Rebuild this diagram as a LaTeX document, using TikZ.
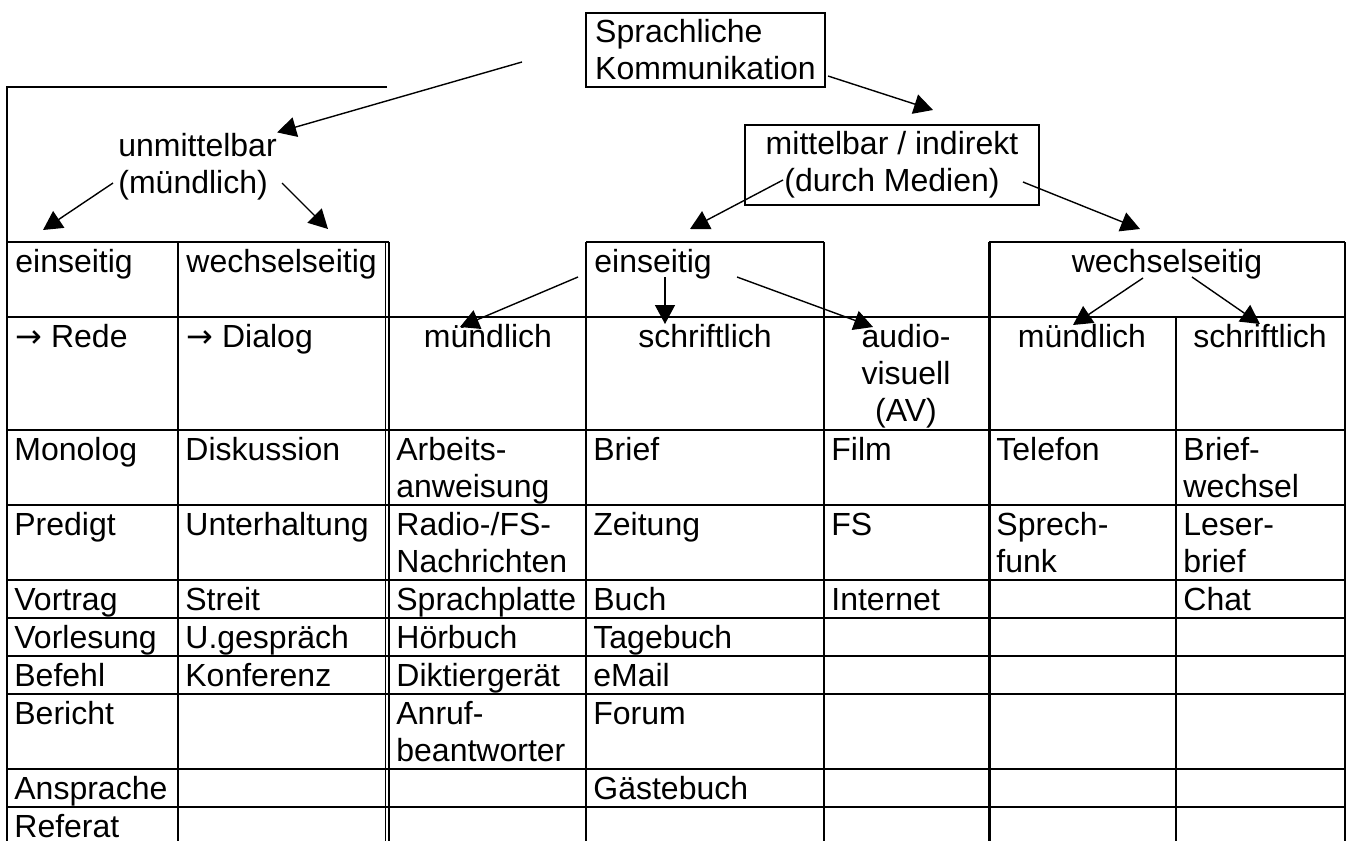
\documentclass[tikz,border=0pt]{standalone}
\usepackage{fontspec}
\setmainfont{Liberation Sans}
\newfontfamily\arrowfont{DejaVu Sans}
\usetikzlibrary{arrows.meta}

\tikzset{
  cell/.style={anchor=base west, inner sep=0pt, align=left},
  mid/.style={anchor=base, inner sep=0pt, align=center},
  box/.style={draw, line width=1pt, inner sep=0pt},
  rule/.style={line width=1pt},
  arr/.style={-{Triangle[length=9.5pt,width=10pt]}, line width=0.7pt}
}

\begin{document}
\begin{tikzpicture}[x=0.5pt, y=-0.5pt, font=\fontsize{16}{18.5}\selectfont]
\useasboundingbox (0,0) rectangle (1351,841);

\node[box, align=left, minimum width=119.5pt, minimum height=37pt] (sprach) at (705.5,50) {Sprachliche\\Kommunikation};
\node[box, align=center, minimum width=147pt, minimum height=40pt] (mittel) at (892,165) {mittelbar / indirekt\\(durch Medien)};
\node[cell] (unmit) at (118,193) {unmittelbar\\(mündlich)};

\draw[rule] (387,87) -- (7,87) -- (7,841);
\draw[rule] (7,242) -- (389,242);
\draw[rule] (586,242) -- (824,242);
\draw[rule] (989,242) -- (1345,242);
\foreach \y in {317,430,505,580,618,656,694,769,807}
  \draw[rule] (7,\y) -- (1345,\y);
\foreach \x in {178,586,824,1345}
  \draw[rule] (\x,242) -- (\x,841);
\draw[line width=0.6pt] (385.5,242) -- (385.5,841);
\draw[line width=0.6pt] (389,242) -- (389,841);
\draw[line width=1.5pt] (989,242) -- (989,841);
\draw[rule] (1176,317) -- (1176,841);

\node[cell] (ein1) at (15,272) {einseitig};
\node[cell] (wech1) at (186,272) {wechselseitig};
\node[cell] (ein2) at (594,272) {einseitig};
\node[mid] (wech2) at (1167,272) {wechselseitig};

\node[cell] (rede) at (15,347) {{\arrowfont →} Rede};
\node[cell] (dialog) at (186,347) {{\arrowfont →} Dialog};
\node[mid] (muend1) at (488,347) {mündlich};
\node[mid] (schrift1) at (705,347) {schriftlich};
\node[mid] (av) at (906,421) {audio-\\visuell\\(AV)};
\node[mid] (muend2) at (1082,347) {mündlich};
\node[mid] (schrift2) at (1260,347) {schriftlich};

\foreach \y/\t [count=\i] in {460/Monolog, 535/Predigt, 610/Vortrag, 648/Vorlesung, 686/Befehl, 724/Bericht, 799/Ansprache, 837/Referat}
  \node[cell] (a\i) at (14,\y) {\t};
\foreach \y/\t [count=\i] in {460/Diskussion, 535/Unterhaltung, 610/Streit, 648/U.gespräch, 686/Konferenz}
  \node[cell] (b\i) at (185,\y) {\t};
\foreach \y/\t [count=\i] in {497/{Arbeits-\\anweisung}, 572/{Radio-/FS-\\Nachrichten}, 610/Sprachplatte, 648/Hörbuch, 686/Diktiergerät, 761/{Anruf-\\beantworter}}
  \node[cell] (c\i) at (396,\y) {\t};
\foreach \y/\t [count=\i] in {460/Brief, 535/Zeitung, 610/Buch, 648/Tagebuch, 686/eMail, 724/Forum, 799/Gästebuch}
  \node[cell] (d\i) at (593,\y) {\t};
\foreach \y/\t [count=\i] in {460/Film, 535/FS, 610/Internet}
  \node[cell] (e\i) at (831,\y) {\t};
\foreach \y/\t [count=\i] in {460/Telefon, 572/{Sprech-\\funk}}
  \node[cell] (f\i) at (996,\y) {\t};
\foreach \y/\t [count=\i] in {497/{Brief-\\wechsel}, 572/{Leser-\\brief}, 610/Chat}
  \node[cell] (g\i) at (1183,\y) {\t};

\coordinate (s1) at (522,62);
\coordinate (s2) at (828,76);
\coordinate (m0) at (933,110);
\coordinate (u1) at (113,183);
\coordinate (u1e) at (43,230);
\coordinate (u2) at (282,183);
\coordinate (u2e) at (328,229);
\coordinate (m1) at (783,180);
\coordinate (m1e) at (690,229);
\coordinate (m2) at (1023,182);
\coordinate (m2e) at (1140,229);
\coordinate (e1) at (578,277);
\coordinate (e1e) at (460,327);
\coordinate (e2) at (665,277);
\coordinate (e2e) at (665,324);
\coordinate (e3) at (737,277);
\coordinate (e3e) at (873,327);
\coordinate (w1) at (1143,278);
\coordinate (w1e) at (1073,325);
\coordinate (w2) at (1192,277);
\coordinate (w2e) at (1260,324);

\draw[arr] (s1) -- (unmit.north east);
\draw[arr] (s2) -- (m0);
\draw[arr] (u1) -- (u1e);
\draw[arr] (u2) -- (u2e);
\draw[arr] (m1) -- (m1e);
\draw[arr] (m2) -- (m2e);
\draw[arr] (e1) -- (e1e);
\draw[arr] (e2) -- (e2e);
\draw[arr] (e3) -- (e3e);
\draw[arr] (w1) -- (w1e);
\draw[arr] (w2) -- (w2e);
\end{tikzpicture}
\end{document}
